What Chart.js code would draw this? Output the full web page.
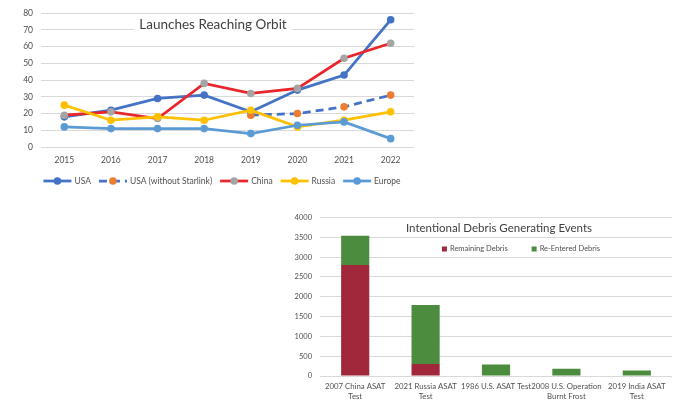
<!DOCTYPE html>
<html>
<head>
<meta charset="utf-8">
<script src="https://cdn.jsdelivr.net/npm/chart.js@4.4.0/dist/chart.umd.min.js"></script>
<style>
    body { margin: 0; background: #fff; width: 688px; height: 407px; position: relative; overflow: hidden; }
    #launch-wrapper { position: absolute; left: 0; top: 0; width: 430px; height: 195px; }
    #debris-wrapper { position: absolute; left: 280px; top: 205px; width: 408px; height: 202px; }
</style>
</head>
<body>
<div id="launch-wrapper"><canvas id="launch-chart"></canvas></div>
<div id="debris-wrapper"><canvas id="debris-chart"></canvas></div>
<script>
// launches chart data
const years = ["2015", "2016", "2017", "2018", "2019", "2020", "2021", "2022"];
const usa = [18, 22, 29, 31, 21, 34, 43, 76];
const usaNoStarlink = [null, null, null, null, 19, 20, 24, 31];
const china = [19, 21, 17, 38, 32, 35, 53, 62];
const russia = [25, 16, 18, 16, 22, 12, 16, 21];
const europe = [12, 11, 11, 11, 8, 13, 15, 5];
const launchTicks = [0, 10, 20, 30, 40, 50, 60, 70, 80];

// debris chart data
const events = [["2007 China ASAT", "Test"], ["2021 Russia ASAT", "Test"], "1986 U.S. ASAT Test", ["2008 U.S. Operation", "Burnt Frost"], ["2019 India ASAT", "Test"]];
const remainingDebris = [2800, 300, 0, 0, 0];
const reenteredDebris = [740, 1490, 290, 180, 140];
const debrisTicks = [0, 500, 1000, 1500, 2000, 2500, 3000, 3500, 4000];

const FONT = "Lato, 'Open Sans', sans-serif";
const TICK_COLOR = "#505050";
const GRID_COLOR = "#d9d9d9";

Chart.defaults.font.family = FONT;
Chart.defaults.color = TICK_COLOR;

// title drawn inside the plot on a white box, like excel does it
const boxTitle = {
    id: "boxTitle",
    beforeDatasetsDraw(chart, args, opts) {
        const ctx = chart.ctx;
        ctx.save();
        ctx.font = opts.size + "px " + FONT;
        const w = ctx.measureText(opts.text).width;
        ctx.fillStyle = "#fff";
        ctx.fillRect(opts.x - w / 2 - opts.pad, opts.y - opts.h / 2, w + opts.pad * 2, opts.h);
        ctx.fillStyle = "#404040";
        ctx.textAlign = "center";
        ctx.textBaseline = "middle";
        ctx.fillText(opts.text, opts.x, opts.y);
        ctx.restore();
    }
};

// legend with line + marker for each series
const lineLegend = {
    id: "lineLegend",
    afterDraw(chart, args, opts) {
        const ctx = chart.ctx;
        const sets = chart.data.datasets;
        ctx.save();
        ctx.font = opts.size + "px " + FONT;
        let total = 0;
        const widths = sets.map(ds => ctx.measureText(ds.label).width);
        widths.forEach(w => total += opts.seg + opts.gap + w);
        total += opts.space * (sets.length - 1);
        let x = opts.x - total / 2;
        const y = opts.y;
        sets.forEach((ds, i) => {
            ctx.strokeStyle = ds.borderColor;
            ctx.lineWidth = ds.borderWidth;
            ctx.setLineDash(ds.borderDash || []);
            ctx.beginPath();
            ctx.moveTo(x, y);
            ctx.lineTo(x + opts.seg, y);
            ctx.stroke();
            ctx.setLineDash([]);
            ctx.fillStyle = ds.pointBackgroundColor;
            ctx.beginPath();
            ctx.arc(x + opts.seg / 2, y, ds.pointRadius, 0, Math.PI * 2);
            ctx.fill();
            x += opts.seg + opts.gap;
            ctx.fillStyle = TICK_COLOR;
            ctx.textBaseline = "middle";
            ctx.fillText(ds.label, x, y);
            x += widths[i] + opts.space;
        });
        ctx.restore();
    }
};

// legend with small squares, drawn on a white box inside the plot
const boxLegend = {
    id: "boxLegend",
    beforeDatasetsDraw(chart, args, opts) {
        const ctx = chart.ctx;
        const sets = chart.data.datasets;
        ctx.save();
        ctx.font = opts.size + "px " + FONT;
        const widths = sets.map(ds => ctx.measureText(ds.label).width);
        let total = 0;
        widths.forEach(w => total += opts.box + opts.gap + w);
        total += opts.space * (sets.length - 1);
        let x = opts.x - total / 2;
        const y = opts.y;
        ctx.fillStyle = "#fff";
        ctx.fillRect(x - 4, y - 6, total + 8, 12);
        sets.forEach((ds, i) => {
            ctx.fillStyle = ds.backgroundColor;
            ctx.fillRect(x, y - opts.box / 2, opts.box, opts.box);
            x += opts.box + opts.gap;
            ctx.fillStyle = TICK_COLOR;
            ctx.textBaseline = "middle";
            ctx.fillText(ds.label, x, y);
            x += widths[i] + opts.space;
        });
        ctx.restore();
    }
};

function lineSet(label, data, lineColor, markerColor, order, dash) {
    return {
        label: label,
        data: data,
        borderColor: lineColor,
        backgroundColor: markerColor,
        pointBackgroundColor: markerColor,
        pointBorderColor: markerColor,
        pointRadius: 3.8,
        pointBorderWidth: 0,
        borderWidth: 2.75,
        borderDash: dash,
        tension: 0,
        order: order
    };
}

new Chart(document.getElementById("launch-chart"), {
    type: "line",
    data: {
        labels: years,
        datasets: [
            lineSet("USA", usa, "#4472C4", "#4472C4", 5),
            lineSet("USA (without Starlink)", usaNoStarlink, "#4472C4", "#ED7D31", 4, [8, 5]),
            lineSet("China", china, "#E8262B", "#A5A5A5", 3),
            lineSet("Russia", russia, "#FFC000", "#FFC000", 2),
            lineSet("Europe", europe, "#5B9BD5", "#5B9BD5", 1)
        ]
    },
    options: {
        responsive: true,
        maintainAspectRatio: false,
        animation: false,
        layout: { padding: { left: 0, top: 13, right: 16, bottom: 0 } },
        plugins: {
            legend: { display: false },
            tooltip: { enabled: false },
            boxTitle: { text: "Launches Reaching Orbit", x: 213, y: 25, size: 13.5, pad: 5, h: 20 },
            lineLegend: { x: 222, y: 181, size: 8.5, seg: 28, gap: 3, space: 8 }
        },
        scales: {
            x: {
                offset: true,
                grid: { display: false, drawTicks: false },
                border: { display: false },
                ticks: { font: { size: 8.5 }, padding: 8, color: TICK_COLOR },
                afterFit(scale) { scale.height = 48; }
            },
            y: {
                min: 0,
                max: 80,
                grid: { color: GRID_COLOR, drawTicks: false },
                border: { display: false },
                ticks: { font: { size: 8.5 }, padding: 8, color: TICK_COLOR },
                afterBuildTicks(scale) { scale.ticks = launchTicks.map(v => ({ value: v })); },
                afterFit(scale) { scale.width = 41; }
            }
        }
    },
    plugins: [boxTitle, lineLegend]
});

new Chart(document.getElementById("debris-chart"), {
    type: "bar",
    data: {
        labels: events,
        datasets: [
            { label: "Remaining Debris", data: remainingDebris, backgroundColor: "#A0283A" },
            { label: "Re-Entered Debris", data: reenteredDebris, backgroundColor: "#4C8C3F" }
        ]
    },
    options: {
        responsive: true,
        maintainAspectRatio: false,
        animation: false,
        categoryPercentage: 1,
        barPercentage: 0.4,
        layout: { padding: { left: 0, top: 10, right: 16, bottom: 0 } },
        plugins: {
            legend: { display: false },
            tooltip: { enabled: false },
            boxTitle: { text: "Intentional Debris Generating Events", x: 219, y: 23, size: 11.5, pad: 5, h: 18 },
            boxLegend: { x: 241, y: 44, size: 7.5, box: 5, gap: 3, space: 24 }
        },
        scales: {
            x: {
                stacked: true,
                grid: { display: false, drawTicks: false },
                border: { display: false },
                ticks: { font: { size: 7.8 }, padding: 6, color: TICK_COLOR, maxRotation: 0, autoSkip: false },
                afterFit(scale) { scale.height = 31; }
            },
            y: {
                stacked: true,
                min: 0,
                max: 4000,
                grid: { color: GRID_COLOR, drawTicks: false },
                border: { display: false },
                ticks: { font: { size: 7.5 }, padding: 8, color: TICK_COLOR, callback: v => String(v) },
                afterBuildTicks(scale) { scale.ticks = debrisTicks.map(v => ({ value: v })); },
                afterFit(scale) { scale.width = 40; }
            }
        }
    },
    plugins: [boxTitle, boxLegend]
});
</script>
</body>
</html>
